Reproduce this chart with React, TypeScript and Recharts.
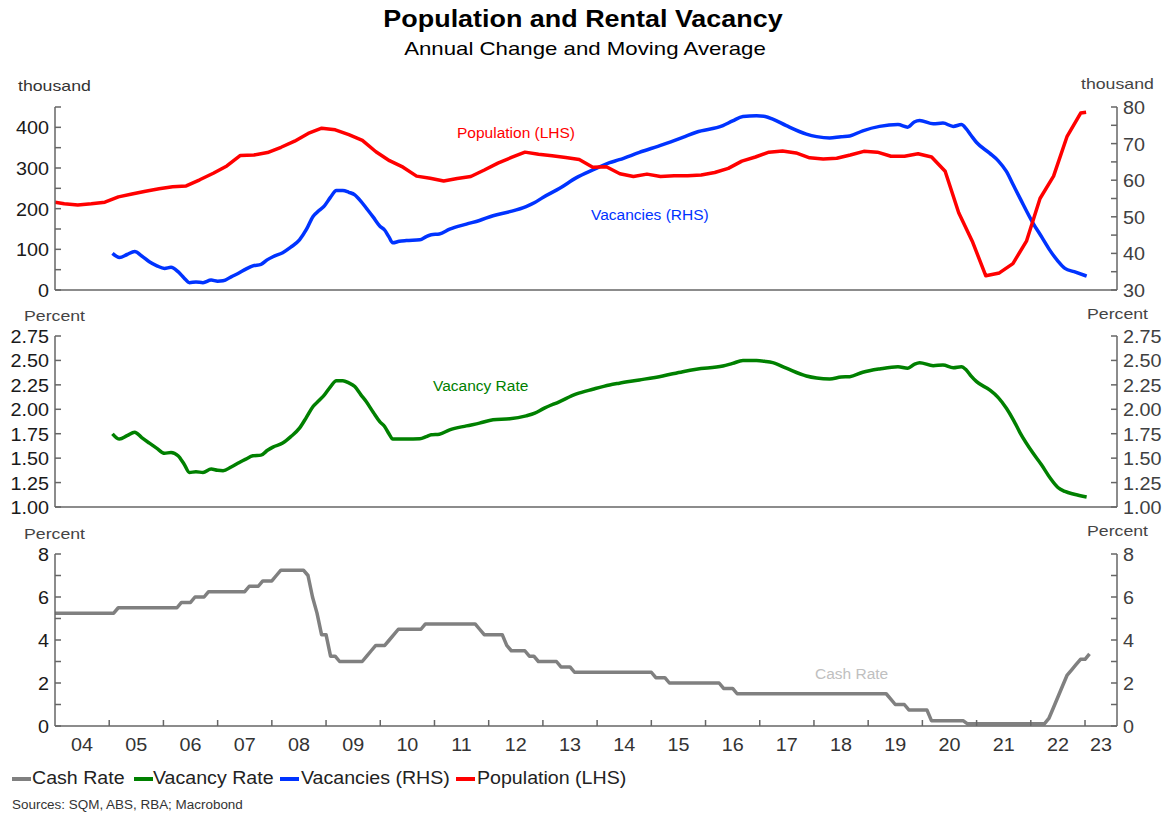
import React from 'react';
import { LineChart, Line, XAxis, YAxis } from 'recharts';

// ---------- data ----------
const yearTicks = [2004, 2005, 2006, 2007, 2008, 2009, 2010, 2011, 2012, 2013, 2014, 2015, 2016, 2017, 2018, 2019, 2020, 2021, 2022, 2023];
const yearLabels = ['04', '05', '06', '07', '08', '09', '10', '11', '12', '13', '14', '15', '16', '17', '18', '19', '20', '21', '22', '23'];

const popT = [2004.0, 2004.17, 2004.42, 2004.67, 2004.92, 2005.17, 2005.42, 2005.67, 2005.92, 2006.17, 2006.42, 2006.67, 2006.92, 2007.17, 2007.42, 2007.67, 2007.92, 2008.17, 2008.42, 2008.67, 2008.92, 2009.17, 2009.42, 2009.67, 2009.92, 2010.17, 2010.42, 2010.67, 2010.92, 2011.17, 2011.42, 2011.67, 2011.92, 2012.17, 2012.42, 2012.67, 2012.92, 2013.17, 2013.42, 2013.67, 2013.92, 2014.17, 2014.42, 2014.67, 2014.92, 2015.17, 2015.42, 2015.67, 2015.92, 2016.17, 2016.42, 2016.67, 2016.92, 2017.17, 2017.42, 2017.67, 2017.92, 2018.17, 2018.42, 2018.67, 2018.92, 2019.17, 2019.42, 2019.67, 2019.92, 2020.17, 2020.42, 2020.67, 2020.92, 2021.17, 2021.42, 2021.67, 2021.92, 2022.17, 2022.42, 2022.67, 2022.92, 2023.02];
const popV = [216, 212, 209, 212, 216, 229, 236, 243, 249, 254, 256, 271, 287, 305, 331, 332, 338, 351, 366, 385, 398, 394, 382, 368, 340, 318, 302, 280, 275, 268, 274, 279, 295, 312, 326, 339, 334, 330, 326, 321, 302, 303, 286, 279, 285, 279, 281, 281, 283, 289, 299, 317, 327, 339, 342, 337, 325, 322, 324, 332, 341, 339, 329, 329, 335, 327, 292, 190, 120, 35, 42, 65, 120, 225, 280, 378, 435, 437];

const vacT = [2005.06, 2005.19, 2005.33, 2005.47, 2005.6, 2005.74, 2005.88, 2006.02, 2006.14, 2006.27, 2006.38, 2006.48, 2006.6, 2006.73, 2006.88, 2007.0, 2007.1, 2007.25, 2007.4, 2007.52, 2007.65, 2007.8, 2007.92, 2008.02, 2008.2, 2008.35, 2008.51, 2008.64, 2008.76, 2008.87, 2008.97, 2009.08, 2009.19, 2009.31, 2009.42, 2009.53, 2009.64, 2009.74, 2009.87, 2009.99, 2010.08, 2010.16, 2010.23, 2010.35, 2010.48, 2010.73, 2010.85, 2010.94, 2011.09, 2011.28, 2011.59, 2011.83, 2012.08, 2012.39, 2012.69, 2012.85, 2013.0, 2013.31, 2013.62, 2013.92, 2014.23, 2014.41, 2014.78, 2015.21, 2015.58, 2015.83, 2016.32, 2016.5, 2016.69, 2016.94, 2017.1, 2017.24, 2017.49, 2017.86, 2018.05, 2018.29, 2018.5, 2018.66, 2018.9, 2019.21, 2019.55, 2019.73, 2019.85, 2019.95, 2020.2, 2020.38, 2020.57, 2020.72, 2020.81, 2020.9, 2021.0, 2021.24, 2021.4, 2021.55, 2021.68, 2021.8, 2022.04, 2022.2, 2022.35, 2022.5, 2022.63, 2022.8, 2023.03];
const vacV = [40.0, 38.9, 39.7, 40.5, 39.3, 37.7, 36.6, 35.9, 36.2, 35.0, 33.3, 32.0, 32.2, 32.0, 32.7, 32.4, 32.5, 33.6, 34.7, 35.7, 36.6, 37.0, 38.3, 39.1, 40.2, 41.7, 43.7, 46.6, 50.1, 51.7, 53.0, 55.3, 57.2, 57.2, 56.7, 56.0, 54.3, 52.4, 49.9, 47.5, 46.4, 44.5, 42.9, 43.3, 43.5, 43.7, 44.6, 45.1, 45.3, 46.6, 48.0, 49.0, 50.3, 51.4, 52.8, 53.9, 55.3, 57.8, 60.7, 62.8, 64.8, 65.6, 67.6, 69.7, 71.7, 73.1, 74.9, 76.2, 77.4, 77.6, 77.4, 76.7, 74.9, 72.6, 71.9, 71.5, 71.9, 72.1, 73.5, 74.7, 75.2, 74.5, 75.9, 76.3, 75.4, 75.6, 74.7, 75.2, 74.0, 72.2, 70.3, 67.4, 65.3, 62.4, 58.6, 55.1, 48.3, 44.5, 40.9, 37.9, 35.9, 35.0, 33.8];

const rateT = vacT;
const rateV = [1.749, 1.695, 1.73, 1.766, 1.71, 1.654, 1.6, 1.55, 1.558, 1.524, 1.44, 1.354, 1.36, 1.354, 1.388, 1.375, 1.371, 1.41, 1.456, 1.49, 1.524, 1.531, 1.58, 1.613, 1.654, 1.72, 1.807, 1.92, 2.028, 2.09, 2.147, 2.23, 2.293, 2.293, 2.27, 2.232, 2.15, 2.079, 1.97, 1.874, 1.823, 1.75, 1.695, 1.695, 1.695, 1.698, 1.72, 1.739, 1.745, 1.79, 1.83, 1.858, 1.892, 1.902, 1.933, 1.96, 2.004, 2.079, 2.157, 2.205, 2.249, 2.267, 2.3, 2.341, 2.385, 2.41, 2.443, 2.47, 2.498, 2.498, 2.49, 2.477, 2.42, 2.341, 2.32, 2.31, 2.33, 2.334, 2.379, 2.413, 2.436, 2.42, 2.46, 2.477, 2.446, 2.453, 2.426, 2.436, 2.402, 2.34, 2.283, 2.198, 2.12, 2.011, 1.89, 1.762, 1.552, 1.43, 1.302, 1.2, 1.159, 1.13, 1.102];

const cashT = [2004.0, 2005.083, 2005.167, 2006.25, 2006.333, 2006.5, 2006.583, 2006.75, 2006.833, 2007.5, 2007.583, 2007.75, 2007.833, 2008.0, 2008.083, 2008.167, 2008.583, 2008.667, 2008.75, 2008.833, 2008.917, 2009.0, 2009.083, 2009.167, 2009.25, 2009.667, 2009.75, 2009.833, 2009.917, 2010.083, 2010.167, 2010.25, 2010.333, 2010.75, 2010.833, 2011.75, 2011.833, 2011.917, 2012.25, 2012.333, 2012.417, 2012.667, 2012.75, 2012.833, 2012.917, 2013.25, 2013.333, 2013.5, 2013.583, 2015.0, 2015.083, 2015.25, 2015.333, 2016.25, 2016.333, 2016.5, 2016.583, 2019.333, 2019.417, 2019.5, 2019.667, 2019.75, 2020.083, 2020.167, 2020.75, 2020.833, 2022.25, 2022.333, 2022.417, 2022.5, 2022.583, 2022.667, 2022.75, 2022.833, 2022.917, 2023.0, 2023.083];
const cashV = [5.25, 5.25, 5.5, 5.5, 5.75, 5.75, 6.0, 6.0, 6.25, 6.25, 6.5, 6.5, 6.75, 6.75, 7.0, 7.25, 7.25, 7.0, 6.0, 5.25, 4.25, 4.25, 3.25, 3.25, 3.0, 3.0, 3.25, 3.5, 3.75, 3.75, 4.0, 4.25, 4.5, 4.5, 4.75, 4.75, 4.5, 4.25, 4.25, 3.75, 3.5, 3.5, 3.25, 3.25, 3.0, 3.0, 2.75, 2.75, 2.5, 2.5, 2.25, 2.25, 2.0, 2.0, 1.75, 1.75, 1.5, 1.5, 1.25, 1.0, 1.0, 0.75, 0.75, 0.25, 0.25, 0.1, 0.1, 0.35, 0.85, 1.35, 1.85, 2.35, 2.6, 2.85, 3.1, 3.1, 3.35];

const popTicks = [0, 50, 100, 150, 200, 250, 300, 350, 400, 450];
const vacTicks = [30, 35, 40, 45, 50, 55, 60, 65, 70, 75, 80];
const rateTicks = [1, 1.25, 1.5, 1.75, 2, 2.25, 2.5, 2.75];
const cashTicks = [0, 1, 2, 3, 4, 5, 6, 7, 8];

const toRows = (t: number[], v: number[]) => t.map((x, i) => ({ t: x, v: v[i] }));
const popRows = toRows(popT, popV);
const vacRows = toRows(vacT, vacV);
const rateRows = toRows(rateT, rateV);
const cashRows = toRows(cashT, cashV);

// ---------- layout / style ----------
const W = 1168;
const LEFT_W = 55;
const RIGHT_W = 51;
const X_MIN = 2004;
const X_MAX = 2023.59;
const PLOT_R = W - RIGHT_W;
const YEAR_PX = (PLOT_R - LEFT_W) / (X_MAX - X_MIN);
const FONT = '"Liberation Sans", Arial, Helvetica, sans-serif';
const AXIS = '#666';
const SX = 1.13;

const RED = '#ff0000';
const BLUE = '#0033ff';
const GREEN = '#008000';
const GREY = '#808080';

function makeLeftTick(show: (v: number) => boolean, fmt: (v: number) => string) {
  return (p: any) => {
    const { x, y, payload } = p;
    const v = payload.value;
    return (
      <g>
        <line x1={x} y1={y} x2={x + 6} y2={y} stroke={AXIS} strokeWidth={1.5} />
        {show(v) && (
          <text transform={`translate(${x - 6},${y}) scale(${SX},1)`} textAnchor="end" dy="0.4em" fontSize={17.5} fontFamily={FONT} fill="#1a1a1a">
            {fmt(v)}
          </text>
        )}
      </g>
    );
  };
}

function makeRightTick(show: (v: number) => boolean, fmt: (v: number) => string) {
  return (p: any) => {
    const { x, y, payload } = p;
    const v = payload.value;
    return (
      <g>
        <line x1={x} y1={y} x2={x - 6} y2={y} stroke={AXIS} strokeWidth={1.5} />
        {show(v) && (
          <text transform={`translate(${x + 6},${y}) scale(${SX},1)`} textAnchor="start" dy="0.4em" fontSize={17.5} fontFamily={FONT} fill="#404040">
            {fmt(v)}
          </text>
        )}
      </g>
    );
  };
}

function XTick(p: any) {
  const { x, y, payload } = p;
  const v = payload.value;
  const next = Math.min(x + YEAR_PX, PLOT_R);
  const cx = (x + next) / 2;
  const label = yearLabels[yearTicks.indexOf(v)];
  return (
    <g>
      {v > X_MIN && <line x1={x} y1={y} x2={x} y2={y - 6} stroke={AXIS} strokeWidth={1.5} />}
      <text transform={`translate(${cx},${y + 25}) scale(${SX},1)`} textAnchor="middle" fontSize={17.5} fontFamily={FONT} fill="#333">
        {label}
      </text>
    </g>
  );
}

type TxtProps = { x: number; y: number; size: number; color?: string; anchor?: 'start' | 'middle' | 'end'; weight?: number; sx?: number; children: React.ReactNode };
function Txt({ x, y, size, color = '#333', anchor = 'start', weight = 400, sx = 1, children }: TxtProps) {
  const tx = anchor === 'start' ? '0%' : anchor === 'middle' ? '-50%' : '-100%';
  const origin = anchor === 'start' ? 'left center' : anchor === 'middle' ? 'center center' : 'right center';
  return (
    <div style={{ position: 'absolute', left: x, top: y, fontSize: size, fontWeight: weight, color, lineHeight: 1, whiteSpace: 'nowrap', fontFamily: FONT, transform: `translate(${tx}, -50%) scaleX(${sx})`, transformOrigin: origin }}>
      {children}
    </div>
  );
}

const xAxisCommon = {
  dataKey: 't',
  type: 'number' as const,
  domain: [X_MIN, X_MAX],
  allowDataOverflow: true,
  axisLine: { stroke: AXIS, strokeWidth: 1.5 },
  tickLine: false,
};

const yAxisCommon = {
  type: 'number' as const,
  allowDataOverflow: true,
  axisLine: { stroke: AXIS, strokeWidth: 1.5 },
  tickLine: false,
  tickSize: 0,
  tickMargin: 0,
  interval: 0 as const,
};

const legendItems = [
  { name: 'Cash Rate', color: GREY, sw: 12, tx: 32 },
  { name: 'Vacancy Rate', color: GREEN, sw: 134, tx: 153 },
  { name: 'Vacancies (RHS)', color: BLUE, sw: 280, tx: 301 },
  { name: 'Population (LHS)', color: RED, sw: 456, tx: 477 },
];

export default function App() {
  return (
    <div style={{ position: 'absolute', left: 0, top: 0, width: W, height: 813, background: '#fff', fontFamily: FONT, overflow: 'hidden' }}>
      <Txt x={583} y={19} size={23} weight={700} anchor="middle" color="#000" sx={1.17}>Population and Rental Vacancy</Txt>
      <Txt x={585} y={48} size={19} anchor="middle" color="#000" sx={1.17}>Annual Change and Moving Average</Txt>

      {/* Panel 1 */}
      <div style={{ position: 'absolute', left: 0, top: 0 }}>
        <LineChart width={W} height={303} margin={{ top: 107, right: 0, bottom: 12, left: 0 }}>
          <XAxis {...xAxisCommon} height={1} tick={false} />
          <YAxis {...yAxisCommon} yAxisId="pop" orientation="left" width={LEFT_W} domain={[0, 450]} ticks={popTicks} tick={makeLeftTick((v) => v % 100 === 0, (v) => String(v))} />
          <YAxis {...yAxisCommon} yAxisId="vac" orientation="right" width={RIGHT_W} domain={[30, 80]} ticks={vacTicks} tick={makeRightTick((v) => v % 10 === 0, (v) => String(v))} />
          <Line yAxisId="vac" data={vacRows} dataKey="v" type="monotone" stroke={BLUE} strokeWidth={3.5} dot={false} isAnimationActive={false} strokeLinejoin="round" />
          <Line yAxisId="pop" data={popRows} dataKey="v" type="linear" stroke={RED} strokeWidth={3.5} dot={false} isAnimationActive={false} strokeLinejoin="round" />
        </LineChart>
      </div>

      {/* Panel 2 */}
      <div style={{ position: 'absolute', left: 0, top: 300 }}>
        <LineChart width={W} height={220} margin={{ top: 36, right: 0, bottom: 12, left: 0 }}>
          <XAxis {...xAxisCommon} height={1} tick={false} />
          <YAxis {...yAxisCommon} yAxisId="l" orientation="left" width={LEFT_W} domain={[1, 2.75]} ticks={rateTicks} tick={makeLeftTick(() => true, (v) => v.toFixed(2))} />
          <YAxis {...yAxisCommon} yAxisId="r" orientation="right" width={RIGHT_W} domain={[1, 2.75]} ticks={rateTicks} tick={makeRightTick(() => true, (v) => v.toFixed(2))} />
          <Line yAxisId="l" data={rateRows} dataKey="v" type="monotone" stroke={GREEN} strokeWidth={3.5} dot={false} isAnimationActive={false} strokeLinejoin="round" />
        </LineChart>
      </div>

      {/* Panel 3 */}
      <div style={{ position: 'absolute', left: 0, top: 520 }}>
        <LineChart width={W} height={236} margin={{ top: 34, right: 0, bottom: 0, left: 0 }}>
          <XAxis {...xAxisCommon} height={30} ticks={yearTicks} interval={0} tickSize={0} tickMargin={0} tick={XTick} />
          <YAxis {...yAxisCommon} yAxisId="l" orientation="left" width={LEFT_W} domain={[0, 8]} ticks={cashTicks} tick={makeLeftTick((v) => v % 2 === 0, (v) => String(v))} />
          <YAxis {...yAxisCommon} yAxisId="r" orientation="right" width={RIGHT_W} domain={[0, 8]} ticks={cashTicks} tick={makeRightTick((v) => v % 2 === 0, (v) => String(v))} />
          <Line yAxisId="l" data={cashRows} dataKey="v" type="linear" stroke={GREY} strokeWidth={3.5} dot={false} isAnimationActive={false} strokeLinejoin="round" />
        </LineChart>
      </div>

      {/* axis unit labels */}
      <Txt x={18} y={85} size={15} color="#333" sx={1.18}>thousand</Txt>
      <Txt x={1081} y={83} size={15} color="#444" sx={1.18}>thousand</Txt>
      <Txt x={24} y={315} size={15} color="#444" sx={1.18}>Percent</Txt>
      <Txt x={1087} y={313} size={15} color="#444" sx={1.18}>Percent</Txt>
      <Txt x={24} y={533} size={15} color="#444" sx={1.18}>Percent</Txt>
      <Txt x={1087} y={530} size={15} color="#444" sx={1.18}>Percent</Txt>

      {/* series annotations */}
      <Txt x={457} y={133} size={15.5} color={RED}>Population (LHS)</Txt>
      <Txt x={591} y={215} size={15.5} color={BLUE}>Vacancies (RHS)</Txt>
      <Txt x={433} y={386} size={15.5} color={GREEN}>Vacancy Rate</Txt>
      <Txt x={815} y={674} size={15.5} color="#c0c0c0">Cash Rate</Txt>

      {/* legend */}
      {legendItems.map((it) => (
        <React.Fragment key={it.name}>
          <div style={{ position: 'absolute', left: it.sw, top: 777, width: 19, height: 4, background: it.color }} />
          <Txt x={it.tx} y={779} size={17.5} color="#222" sx={1.12}>{it.name}</Txt>
        </React.Fragment>
      ))}

      <Txt x={12} y={805} size={12} color="#333" sx={1.12}>Sources: SQM, ABS, RBA; Macrobond</Txt>
    </div>
  );
}
